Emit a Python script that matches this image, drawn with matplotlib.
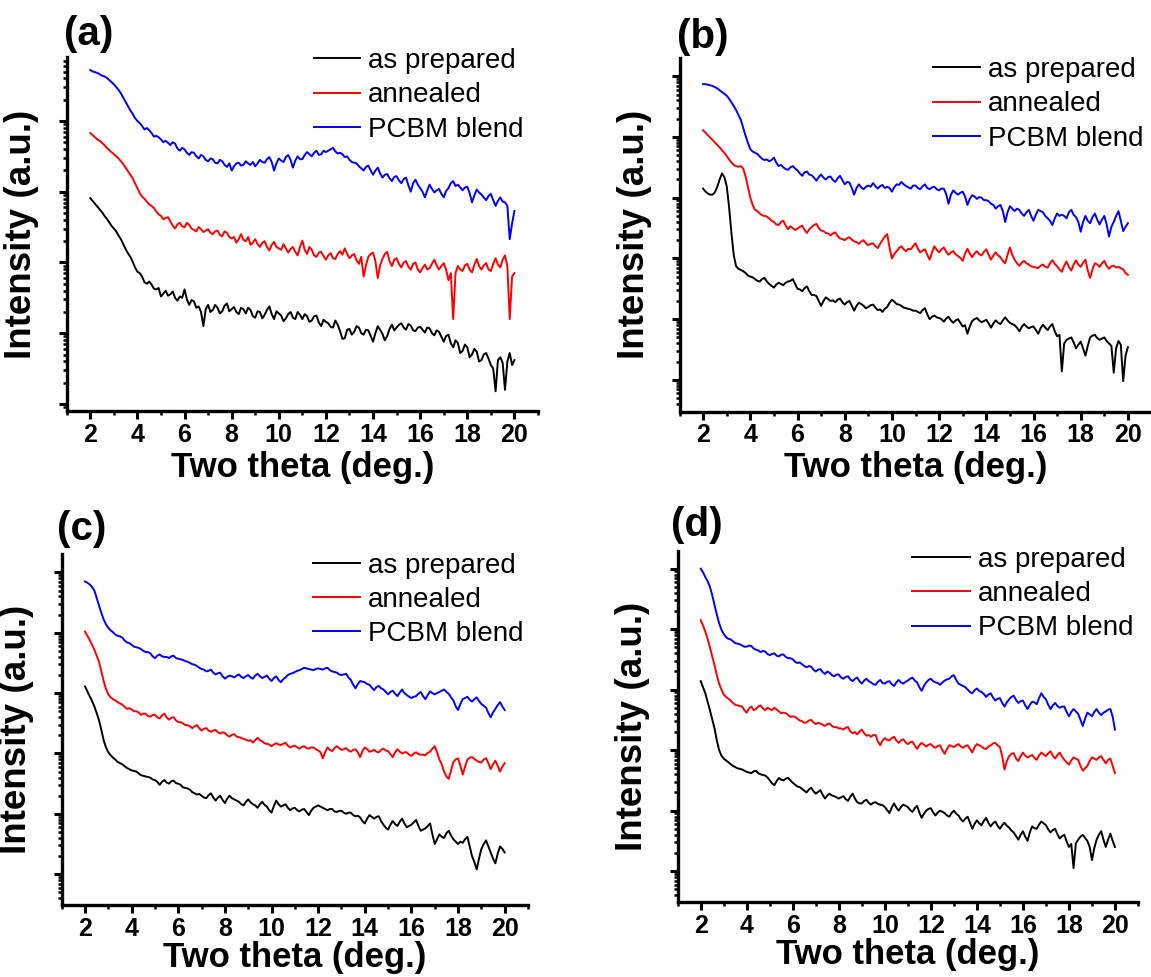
import numpy as np
import matplotlib
matplotlib.use("Agg")
import matplotlib.pyplot as plt
from matplotlib.ticker import LogLocator, NullFormatter, MultipleLocator

plt.rcParams['font.family'] = ['Liberation Sans', 'DejaVu Sans']

# ---------------- data (log10 of intensity, arbitrary units) ----------------
# values read at 2.0, 2.2, ..., 20.0 deg and at the in-between points 2.1, 2.3, ..., 19.9 deg
two_theta_even = np.round(np.arange(2.0, 20.001, 0.2), 1)
two_theta_mid = np.round(np.arange(2.1, 19.95, 0.2), 1)
series_names = ["as prepared", "annealed", "PCBM blend"]
series_colors = ["#000000", "#ff0000", "#0000ff"]
panel_labels = ["(a)", "(b)", "(c)", "(d)"]
xtick_values = [2, 4, 6, 8, 10, 12, 14, 16, 18, 20]

a_as_prepared = [
    3.91, 3.83, 3.75, 3.66, 3.57, 3.48, 3.38, 3.26, 3.13, 3.01,
    2.87, 2.80, 2.70, 2.69, 2.62, 2.52, 2.60, 2.55, 2.50, 2.52,
    2.62, 2.40, 2.45, 2.38, 2.10, 2.40, 2.33, 2.36, 2.31, 2.42,
    2.34, 2.30, 2.36, 2.28, 2.33, 2.22, 2.30, 2.26, 2.38, 2.20,
    2.28, 2.17, 2.27, 2.22, 2.30, 2.20, 2.24, 2.18, 2.25, 2.10,
    2.16, 2.09, 2.18, 2.03, 1.93, 2.06, 2.02, 2.08, 1.98, 2.04,
    1.88, 2.10, 1.99, 1.96, 2.12, 2.08, 2.14, 2.05, 2.11, 2.03,
    2.09, 2.01, 2.07, 1.97, 2.02, 1.88, 1.98, 1.80, 1.86, 1.75,
    1.80, 1.70, 1.74, 1.62, 1.72, 1.55, 1.18, 1.66, 1.20, 1.72,
    1.62]
a_as_prepared_mid = [
    3.87, 3.79, 3.71, 3.62, 3.52, 3.44, 3.33, 3.19, 3.08, 2.93,
    2.85, 2.72, 2.73, 2.63, 2.64, 2.56, 2.53, 2.59, 2.46, 2.50,
    2.48, 2.47, 2.36, 2.30, 2.34, 2.30, 2.40, 2.28, 2.39, 2.31,
    2.37, 2.27, 2.34, 2.36, 2.24, 2.31, 2.21, 2.33, 2.27, 2.31,
    2.25, 2.21, 2.30, 2.20, 2.26, 2.27, 2.16, 2.24, 2.15, 2.19,
    2.14, 2.08, 2.12, 1.92, 2.05, 1.98, 2.10, 2.00, 2.05, 1.96,
    2.00, 2.05, 1.90, 2.06, 2.04, 2.12, 2.08, 2.13, 2.04, 2.08,
    2.05, 2.08, 2.00, 2.04, 1.95, 1.96, 1.86, 1.90, 1.72, 1.84,
    1.66, 1.78, 1.60, 1.70, 1.64, 1.50, 1.62, 1.58, 1.60, 1.55]
a_annealed = [
    4.83, 4.77, 4.72, 4.66, 4.59, 4.53, 4.47, 4.39, 4.29, 4.19,
    4.05, 3.93, 3.86, 3.80, 3.72, 3.66, 3.63, 3.58, 3.48, 3.56,
    3.50, 3.53, 3.46, 3.50, 3.43, 3.47, 3.40, 3.45, 3.37, 3.42,
    3.34, 3.28, 3.40, 3.30, 3.25, 3.33, 3.22, 3.30, 3.17, 3.29,
    3.20, 3.26, 3.14, 3.22, 3.10, 3.31, 3.12, 3.18, 3.08, 3.15,
    3.04, 3.13, 3.05, 3.16, 3.20, 3.06, 3.12, 2.98, 2.80, 3.08,
    3.14, 2.78, 3.05, 3.15, 2.95, 3.06, 2.93, 3.02, 2.90, 3.00,
    2.86, 2.97, 2.92, 3.04, 2.90, 2.99, 2.75, 2.20, 2.95, 2.88,
    2.98, 2.86, 3.05, 2.90, 2.99, 2.88, 3.06, 2.93, 3.10, 2.20,
    2.85]
a_annealed_mid = [
    4.80, 4.74, 4.69, 4.62, 4.56, 4.50, 4.43, 4.34, 4.24, 4.12,
    3.98, 3.90, 3.82, 3.77, 3.68, 3.61, 3.64, 3.52, 3.54, 3.51,
    3.56, 3.48, 3.44, 3.47, 3.45, 3.42, 3.44, 3.39, 3.44, 3.36,
    3.36, 3.33, 3.32, 3.36, 3.28, 3.26, 3.28, 3.22, 3.25, 3.22,
    3.18, 3.20, 3.19, 3.15, 3.22, 3.18, 3.22, 3.10, 3.14, 3.09,
    3.10, 3.06, 3.12, 3.11, 3.12, 3.10, 3.03, 3.08, 2.96, 3.12,
    3.02, 2.96, 3.12, 3.02, 3.04, 2.98, 3.00, 2.94, 2.98, 2.90,
    2.92, 2.90, 2.98, 2.96, 2.95, 2.90, 2.85, 2.85, 2.90, 2.96,
    2.90, 2.97, 2.95, 2.96, 2.90, 2.98, 2.97, 3.04, 2.95, 2.80]
a_pcbm_blend = [
    5.72, 5.69, 5.66, 5.63, 5.58, 5.52, 5.44, 5.33, 5.21, 5.10,
    5.00, 4.93, 4.90, 4.83, 4.79, 4.74, 4.72, 4.66, 4.68, 4.58,
    4.60, 4.52, 4.55, 4.47, 4.50, 4.43, 4.46, 4.40, 4.43, 4.35,
    4.30, 4.40, 4.37, 4.43, 4.38, 4.36, 4.45, 4.41, 4.49, 4.30,
    4.47, 4.42, 4.52, 4.34, 4.50, 4.46, 4.56, 4.50, 4.58, 4.53,
    4.56, 4.60, 4.57, 4.55, 4.49, 4.45, 4.41, 4.36, 4.30, 4.37,
    4.24, 4.34, 4.20, 4.25, 4.15, 4.22, 4.12, 4.20, 4.00, 4.17,
    4.05, 3.92, 4.10, 3.99, 4.04, 3.92, 4.05, 4.15, 4.10, 4.02,
    4.07, 3.85, 4.03, 3.96, 3.88, 3.97, 3.80, 3.92, 3.85, 3.33,
    3.73]
a_pcbm_blend_mid = [
    5.70, 5.68, 5.64, 5.61, 5.55, 5.48, 5.39, 5.27, 5.15, 5.04,
    4.97, 4.88, 4.87, 4.78, 4.77, 4.70, 4.69, 4.70, 4.61, 4.62,
    4.55, 4.56, 4.50, 4.52, 4.45, 4.47, 4.41, 4.45, 4.38, 4.40,
    4.36, 4.41, 4.38, 4.40, 4.42, 4.40, 4.42, 4.46, 4.42, 4.40,
    4.44, 4.49, 4.45, 4.44, 4.46, 4.52, 4.53, 4.55, 4.52, 4.58,
    4.58, 4.62, 4.54, 4.53, 4.50, 4.42, 4.40, 4.33, 4.35, 4.30,
    4.30, 4.26, 4.24, 4.19, 4.21, 4.16, 4.18, 4.09, 4.12, 4.10,
    4.00, 4.02, 4.04, 4.02, 3.97, 4.01, 4.12, 4.08, 4.06, 4.06,
    3.98, 3.95, 3.99, 3.92, 3.94, 3.88, 3.87, 3.86, 3.80, 3.55]

b_as_prepared = [
    3.15, 3.07, 3.05, 3.18, 3.40, 3.19, 2.42, 1.87, 1.81, 1.76,
    1.70, 1.66, 1.62, 1.68, 1.58, 1.52, 1.60, 1.56, 1.62, 1.66,
    1.50, 1.46, 1.54, 1.40, 1.38, 1.22, 1.36, 1.30, 1.28, 1.34,
    1.24, 1.30, 1.14, 1.27, 1.22, 1.20, 1.24, 1.15, 1.12, 1.20,
    1.32, 1.25, 1.22, 1.18, 1.16, 1.14, 1.10, 1.18, 1.00, 1.06,
    1.02, 0.96, 1.04, 0.94, 1.00, 0.88, 0.76, 0.97, 1.02, 0.95,
    0.99, 0.86, 0.98, 0.92, 1.03, 0.94, 0.90, 0.80, 0.92, 0.85,
    0.88, 0.76, 0.91, 0.82, 0.92, 0.72, 0.14, 0.66, 0.70, 0.52,
    0.63, 0.40, 0.70, 0.74, 0.66, 0.70, 0.60, 0.12, 0.64, -0.02,
    0.54]
b_as_prepared_mid = [
    3.10, 3.05, 3.09, 3.30, 3.34, 2.85, 2.05, 1.83, 1.79, 1.72,
    1.69, 1.63, 1.66, 1.62, 1.55, 1.57, 1.58, 1.60, 1.63, 1.58,
    1.49, 1.51, 1.46, 1.40, 1.30, 1.30, 1.33, 1.31, 1.32, 1.28,
    1.28, 1.22, 1.22, 1.25, 1.18, 1.23, 1.19, 1.16, 1.17, 1.27,
    1.29, 1.24, 1.19, 1.17, 1.14, 1.12, 1.15, 1.08, 1.04, 1.03,
    1.00, 1.01, 0.98, 0.98, 0.94, 0.90, 0.88, 1.00, 0.98, 0.97,
    0.93, 0.93, 0.94, 0.98, 0.98, 0.92, 0.86, 0.87, 0.88, 0.87,
    0.82, 0.85, 0.86, 0.88, 0.80, 0.74, 0.60, 0.68, 0.62, 0.58,
    0.52, 0.56, 0.73, 0.69, 0.68, 0.64, 0.56, 0.52, 0.58, 0.40]
b_annealed = [
    4.11, 4.03, 3.95, 3.87, 3.78, 3.69, 3.58, 3.52, 3.52, 3.35,
    3.00, 2.80, 2.74, 2.70, 2.66, 2.60, 2.55, 2.62, 2.48, 2.50,
    2.49, 2.54, 2.42, 2.52, 2.57, 2.46, 2.42, 2.38, 2.43, 2.33,
    2.30, 2.35, 2.28, 2.24, 2.30, 2.22, 2.25, 2.17, 2.30, 2.40,
    2.00, 2.12, 2.20, 2.12, 2.15, 2.25, 2.10, 2.15, 1.98, 2.20,
    2.10, 2.18, 2.06, 2.12, 2.04, 1.96, 2.16, 2.02, 2.12, 2.05,
    2.15, 1.98, 2.10, 2.02, 1.92, 2.18, 1.98, 1.88, 1.96, 1.90,
    1.86, 1.84, 1.90, 1.85, 1.97, 1.87, 1.78, 1.95, 1.80, 1.97,
    1.86, 1.98, 1.68, 1.92, 1.86, 1.96, 1.83, 1.88, 1.86, 1.82,
    1.73]
b_annealed_mid = [
    4.07, 3.99, 3.91, 3.83, 3.74, 3.63, 3.54, 3.51, 3.48, 3.18,
    2.88, 2.78, 2.71, 2.69, 2.62, 2.56, 2.60, 2.54, 2.53, 2.47,
    2.52, 2.47, 2.48, 2.55, 2.50, 2.45, 2.41, 2.41, 2.37, 2.32,
    2.33, 2.31, 2.27, 2.28, 2.25, 2.24, 2.20, 2.24, 2.36, 2.18,
    2.07, 2.17, 2.15, 2.16, 2.20, 2.16, 2.13, 2.06, 2.10, 2.14,
    2.15, 2.11, 2.10, 2.07, 2.01, 2.08, 2.08, 2.08, 2.07, 2.11,
    2.06, 2.05, 2.05, 1.96, 2.06, 2.06, 1.92, 1.93, 1.92, 1.87,
    1.85, 1.88, 1.86, 1.92, 1.91, 1.82, 1.88, 1.86, 1.90, 1.90,
    1.93, 1.80, 1.82, 1.90, 1.92, 1.88, 1.87, 1.85, 1.84, 1.76]
b_pcbm_blend = [
    4.87, 4.86, 4.84, 4.80, 4.74, 4.68, 4.57, 4.44, 4.28, 4.02,
    3.80, 3.74, 3.68, 3.62, 3.60, 3.66, 3.52, 3.50, 3.46, 3.52,
    3.45, 3.36, 3.43, 3.37, 3.28, 3.38, 3.30, 3.35, 3.26, 3.36,
    3.22, 3.25, 3.05, 3.22, 3.14, 3.20, 3.24, 3.15, 3.21, 3.18,
    3.10, 3.22, 3.26, 3.19, 3.15, 3.20, 3.14, 3.22, 3.14, 3.18,
    3.12, 3.15, 2.90, 3.12, 3.05, 3.10, 2.88, 3.04, 2.98, 3.00,
    2.96, 2.90, 2.82, 2.88, 2.60, 2.86, 2.78, 2.80, 2.70, 2.80,
    2.62, 2.80, 2.76, 2.66, 2.55, 2.74, 2.72, 2.66, 2.80, 2.68,
    2.44, 2.70, 2.58, 2.74, 2.56, 2.70, 2.36, 2.60, 2.78, 2.45,
    2.58]
b_pcbm_blend_mid = [
    4.87, 4.85, 4.82, 4.77, 4.71, 4.63, 4.51, 4.36, 4.15, 3.90,
    3.76, 3.72, 3.64, 3.63, 3.62, 3.58, 3.54, 3.47, 3.50, 3.48,
    3.40, 3.42, 3.38, 3.33, 3.34, 3.33, 3.34, 3.29, 3.32, 3.29,
    3.26, 3.16, 3.16, 3.17, 3.18, 3.18, 3.19, 3.19, 3.16, 3.16,
    3.17, 3.21, 3.22, 3.17, 3.20, 3.16, 3.19, 3.16, 3.17, 3.14,
    3.15, 3.06, 3.05, 3.08, 3.08, 3.02, 2.98, 3.02, 3.01, 2.96,
    2.94, 2.88, 2.86, 2.78, 2.76, 2.82, 2.82, 2.74, 2.76, 2.70,
    2.72, 2.78, 2.70, 2.62, 2.66, 2.70, 2.70, 2.76, 2.72, 2.60,
    2.60, 2.62, 2.68, 2.64, 2.64, 2.56, 2.52, 2.70, 2.62, 2.52]

c_as_prepared = [
    3.11, 2.95, 2.78, 2.55, 2.22, 2.02, 1.93, 1.86, 1.82, 1.76,
    1.72, 1.70, 1.64, 1.62, 1.60, 1.56, 1.48, 1.56, 1.50, 1.55,
    1.50, 1.44, 1.42, 1.36, 1.32, 1.30, 1.26, 1.34, 1.22, 1.30,
    1.18, 1.30, 1.24, 1.20, 1.14, 1.24, 1.16, 1.10, 1.20, 1.12,
    1.02, 1.22, 1.12, 1.16, 1.06, 1.10, 1.04, 1.08, 0.98, 1.10,
    1.14, 1.10, 1.06, 1.08, 1.03, 1.05, 1.00, 1.02, 0.96, 0.94,
    0.84, 0.98, 0.92, 0.96, 0.82, 0.74, 0.88, 0.80, 0.92, 0.78,
    0.82, 0.90, 0.72, 0.76, 0.84, 0.50, 0.66, 0.60, 0.72, 0.58,
    0.50, 0.52, 0.62, 0.30, 0.08, 0.42, 0.56, 0.36, 0.18, 0.46,
    0.36]
c_as_prepared_mid = [
    3.03, 2.87, 2.67, 2.39, 2.10, 1.97, 1.90, 1.84, 1.79, 1.74,
    1.71, 1.67, 1.63, 1.61, 1.57, 1.53, 1.53, 1.52, 1.54, 1.51,
    1.48, 1.43, 1.40, 1.34, 1.33, 1.27, 1.31, 1.27, 1.27, 1.23,
    1.25, 1.26, 1.22, 1.16, 1.20, 1.19, 1.14, 1.16, 1.15, 1.06,
    1.13, 1.16, 1.14, 1.10, 1.09, 1.06, 1.07, 1.03, 1.05, 1.12,
    1.12, 1.08, 1.08, 1.04, 1.05, 1.02, 1.02, 0.98, 0.97, 0.88,
    0.92, 0.95, 0.95, 0.88, 0.77, 0.82, 0.83, 0.87, 0.84, 0.80,
    0.86, 0.80, 0.74, 0.80, 0.66, 0.58, 0.62, 0.68, 0.64, 0.54,
    0.54, 0.58, 0.46, 0.20, 0.26, 0.50, 0.46, 0.26, 0.34, 0.42]
c_annealed = [
    4.02, 3.88, 3.72, 3.52, 3.20, 2.98, 2.90, 2.85, 2.81, 2.74,
    2.73, 2.70, 2.64, 2.66, 2.61, 2.64, 2.58, 2.66, 2.56, 2.60,
    2.52, 2.50, 2.47, 2.42, 2.47, 2.38, 2.42, 2.36, 2.39, 2.33,
    2.34, 2.28, 2.32, 2.27, 2.24, 2.21, 2.18, 2.26, 2.20, 2.16,
    2.12, 2.17, 2.14, 2.18, 2.10, 2.13, 2.08, 2.12, 2.08, 2.10,
    2.05, 1.92, 2.10, 2.04, 2.12, 2.06, 2.09, 2.03, 2.07, 1.94,
    2.10, 2.03, 2.06, 2.02, 2.08, 2.04, 1.94, 2.07, 2.00, 2.02,
    1.96, 2.02, 1.98, 1.97, 2.03, 2.12, 1.90, 1.70, 1.58, 1.86,
    1.92, 1.65, 1.90, 1.94, 1.88, 1.85, 1.92, 1.74, 1.88, 1.70,
    1.84]
c_annealed_mid = [
    3.95, 3.80, 3.62, 3.36, 3.07, 2.93, 2.88, 2.83, 2.77, 2.75,
    2.70, 2.68, 2.66, 2.62, 2.64, 2.60, 2.63, 2.60, 2.59, 2.55,
    2.52, 2.47, 2.45, 2.45, 2.42, 2.41, 2.38, 2.38, 2.35, 2.35,
    2.30, 2.31, 2.28, 2.26, 2.23, 2.22, 2.22, 2.22, 2.17, 2.15,
    2.15, 2.15, 2.16, 2.13, 2.12, 2.10, 2.11, 2.09, 2.10, 2.07,
    2.02, 2.02, 2.06, 2.09, 2.09, 2.07, 2.05, 2.06, 2.02, 2.04,
    2.07, 2.04, 2.03, 2.06, 2.05, 1.99, 2.02, 2.03, 2.02, 1.98,
    2.00, 1.99, 1.98, 2.01, 2.08, 2.02, 1.82, 1.62, 1.72, 1.90,
    1.80, 1.78, 1.93, 1.91, 1.86, 1.90, 1.84, 1.82, 1.80, 1.78]
c_pcbm_blend = [
    4.85, 4.80, 4.70, 4.45, 4.22, 4.08, 4.01, 3.95, 3.92, 3.84,
    3.80, 3.76, 3.73, 3.68, 3.66, 3.58, 3.64, 3.60, 3.58, 3.62,
    3.57, 3.55, 3.52, 3.48, 3.45, 3.40, 3.36, 3.39, 3.31, 3.34,
    3.24, 3.29, 3.26, 3.31, 3.25, 3.30, 3.24, 3.32, 3.25, 3.29,
    3.20, 3.28, 3.18, 3.26, 3.32, 3.35, 3.38, 3.42, 3.40, 3.38,
    3.41, 3.39, 3.42, 3.36, 3.34, 3.30, 3.32, 3.22, 3.08, 3.20,
    3.18, 3.14, 3.05, 3.12, 3.06, 2.98, 3.04, 2.95, 3.06, 2.97,
    2.92, 2.95, 3.02, 2.90, 3.03, 2.98, 3.02, 3.06, 2.99, 2.88,
    2.72, 2.90, 2.94, 2.86, 2.93, 2.82, 2.76, 2.60, 2.74, 2.85,
    2.72]
c_pcbm_blend_mid = [
    4.83, 4.76, 4.58, 4.33, 4.14, 4.04, 3.97, 3.94, 3.87, 3.83,
    3.77, 3.75, 3.70, 3.68, 3.61, 3.62, 3.61, 3.60, 3.61, 3.58,
    3.56, 3.53, 3.50, 3.47, 3.42, 3.39, 3.37, 3.34, 3.33, 3.28,
    3.27, 3.28, 3.29, 3.27, 3.28, 3.26, 3.29, 3.28, 3.27, 3.24,
    3.25, 3.22, 3.23, 3.30, 3.33, 3.37, 3.40, 3.41, 3.39, 3.40,
    3.40, 3.41, 3.38, 3.35, 3.31, 3.31, 3.26, 3.14, 3.15, 3.19,
    3.15, 3.09, 3.10, 3.08, 3.02, 3.02, 2.99, 3.01, 3.00, 2.94,
    2.94, 2.99, 2.95, 2.97, 3.00, 3.00, 3.04, 3.02, 2.93, 2.78,
    2.82, 2.92, 2.89, 2.90, 2.87, 2.79, 2.67, 2.68, 2.80, 2.78]

d_as_prepared = [
    3.14, 2.94, 2.66, 2.36, 2.00, 1.86, 1.80, 1.74, 1.70, 1.68,
    1.64, 1.62, 1.66, 1.60, 1.58, 1.50, 1.42, 1.54, 1.50, 1.54,
    1.46, 1.40, 1.36, 1.30, 1.38, 1.28, 1.34, 1.20, 1.28, 1.24,
    1.20, 1.24, 1.16, 1.28, 1.14, 1.12, 1.18, 1.10, 1.14, 1.10,
    1.06, 0.96, 1.12, 1.00, 1.10, 1.06, 0.98, 1.08, 0.88, 1.00,
    1.04, 0.92, 1.00, 0.96, 0.90, 1.00, 0.92, 0.82, 0.90, 0.70,
    0.84, 0.76, 0.88, 0.74, 0.82, 0.70, 0.80, 0.72, 0.64, 0.52,
    0.66, 0.50, 0.74, 0.70, 0.82, 0.76, 0.64, 0.70, 0.54, 0.60,
    0.40, 0.05, 0.52, 0.60, 0.50, 0.18, 0.52, 0.66, 0.40, 0.62,
    0.40]
d_as_prepared_mid = [
    3.04, 2.80, 2.51, 2.16, 1.91, 1.83, 1.77, 1.72, 1.69, 1.66,
    1.63, 1.65, 1.62, 1.59, 1.55, 1.45, 1.49, 1.51, 1.53, 1.50,
    1.43, 1.39, 1.33, 1.35, 1.32, 1.31, 1.26, 1.25, 1.25, 1.22,
    1.22, 1.19, 1.23, 1.20, 1.12, 1.16, 1.13, 1.13, 1.11, 1.09,
    1.01, 1.05, 1.05, 1.06, 1.08, 1.01, 1.04, 0.97, 0.95, 1.03,
    0.97, 0.97, 0.98, 0.92, 0.96, 0.95, 0.86, 0.87, 0.80, 0.78,
    0.79, 0.83, 0.80, 0.79, 0.75, 0.76, 0.75, 0.67, 0.58, 0.60,
    0.57, 0.64, 0.71, 0.77, 0.79, 0.69, 0.68, 0.61, 0.58, 0.49,
    0.45, 0.46, 0.57, 0.55, 0.40, 0.38, 0.60, 0.52, 0.52, 0.50]
d_annealed = [
    4.15, 3.96, 3.70, 3.40, 3.10, 2.92, 2.85, 2.78, 2.74, 2.72,
    2.62, 2.72, 2.68, 2.74, 2.66, 2.68, 2.70, 2.64, 2.62, 2.58,
    2.56, 2.52, 2.48, 2.46, 2.50, 2.43, 2.44, 2.40, 2.44, 2.38,
    2.36, 2.34, 2.38, 2.28, 2.26, 2.34, 2.24, 2.22, 2.25, 2.08,
    2.20, 2.16, 2.22, 2.12, 2.18, 2.10, 2.14, 2.02, 2.12, 2.06,
    2.10, 2.04, 2.08, 1.94, 2.08, 2.05, 2.10, 2.04, 2.08, 1.96,
    2.10, 2.06, 2.02, 2.08, 2.12, 2.05, 1.68, 1.90, 1.95, 1.82,
    1.96, 1.88, 1.92, 1.84, 1.96, 1.90, 1.98, 1.86, 1.96, 1.84,
    1.76, 1.88, 1.84, 1.66, 1.74, 1.88, 1.84, 1.90, 1.78, 1.86,
    1.62]
d_annealed_mid = [
    4.06, 3.84, 3.55, 3.24, 3.00, 2.88, 2.82, 2.75, 2.73, 2.66,
    2.69, 2.66, 2.72, 2.69, 2.70, 2.66, 2.67, 2.61, 2.61, 2.55,
    2.55, 2.49, 2.45, 2.49, 2.46, 2.45, 2.42, 2.43, 2.40, 2.38,
    2.36, 2.37, 2.31, 2.30, 2.31, 2.28, 2.25, 2.25, 2.14, 2.16,
    2.17, 2.20, 2.16, 2.16, 2.13, 2.13, 2.08, 2.08, 2.09, 2.09,
    2.06, 2.07, 2.00, 2.02, 2.07, 2.08, 2.06, 2.07, 2.02, 2.05,
    2.08, 2.03, 2.06, 2.11, 2.08, 1.90, 1.82, 1.94, 1.86, 1.90,
    1.91, 1.90, 1.87, 1.91, 1.93, 1.95, 1.91, 1.92, 1.89, 1.80,
    1.83, 1.86, 1.74, 1.70, 1.82, 1.86, 1.88, 1.84, 1.84, 1.74]
d_pcbm_blend = [
    5.00, 4.86, 4.70, 4.40, 4.10, 3.92, 3.84, 3.80, 3.76, 3.73,
    3.71, 3.72, 3.66, 3.62, 3.63, 3.57, 3.60, 3.55, 3.58, 3.52,
    3.50, 3.44, 3.42, 3.37, 3.38, 3.30, 3.34, 3.26, 3.28, 3.22,
    3.25, 3.18, 3.22, 3.14, 3.20, 3.10, 3.18, 3.12, 3.08, 3.16,
    3.10, 3.14, 3.06, 3.16, 3.10, 3.15, 3.20, 3.12, 2.98, 3.12,
    3.18, 3.12, 3.08, 3.15, 3.18, 3.24, 3.10, 3.06, 3.00, 2.94,
    3.02, 2.96, 2.88, 2.94, 2.82, 2.86, 2.72, 2.84, 2.90, 2.78,
    2.82, 2.68, 2.80, 2.76, 2.94, 2.84, 2.68, 2.78, 2.70, 2.72,
    2.56, 2.68, 2.60, 2.40, 2.62, 2.56, 2.68, 2.58, 2.64, 2.68,
    2.34]
d_pcbm_blend_mid = [
    4.94, 4.79, 4.56, 4.24, 3.99, 3.87, 3.83, 3.77, 3.75, 3.71,
    3.73, 3.68, 3.65, 3.64, 3.59, 3.59, 3.56, 3.58, 3.54, 3.52,
    3.46, 3.45, 3.39, 3.39, 3.33, 3.33, 3.29, 3.30, 3.24, 3.25,
    3.20, 3.21, 3.17, 3.18, 3.14, 3.15, 3.14, 3.09, 3.13, 3.11,
    3.13, 3.09, 3.12, 3.12, 3.13, 3.18, 3.15, 3.04, 3.06, 3.16,
    3.14, 3.11, 3.12, 3.17, 3.22, 3.16, 3.08, 3.04, 2.96, 2.99,
    2.98, 2.93, 2.92, 2.87, 2.85, 2.78, 2.79, 2.88, 2.83, 2.81,
    2.74, 2.75, 2.79, 2.86, 2.88, 2.75, 2.74, 2.73, 2.72, 2.63,
    2.63, 2.64, 2.50, 2.52, 2.59, 2.63, 2.62, 2.62, 2.67, 2.55]

panel_series = [
    [(a_as_prepared, a_as_prepared_mid), (a_annealed, a_annealed_mid), (a_pcbm_blend, a_pcbm_blend_mid)],
    [(b_as_prepared, b_as_prepared_mid), (b_annealed, b_annealed_mid), (b_pcbm_blend, b_pcbm_blend_mid)],
    [(c_as_prepared, c_as_prepared_mid), (c_annealed, c_annealed_mid), (c_pcbm_blend, c_pcbm_blend_mid)],
    [(d_as_prepared, d_as_prepared_mid), (d_annealed, d_annealed_mid), (d_pcbm_blend, d_pcbm_blend_mid)],
]
# y-range of each panel, in decades (log10)
panel_ylog = [(0.905, 5.90), (-0.52, 5.30), (-0.51, 5.30), (-0.51, 5.30)]


def merged(even_vals, mid_vals):
    x = np.empty(len(two_theta_even) + len(two_theta_mid))
    y = np.empty_like(x)
    x[0::2], x[1::2] = two_theta_even, two_theta_mid
    y[0::2], y[1::2] = even_vals, mid_vals
    return x, y


# ---------------- layout (pixels of a 1151 x 977 canvas) ----------------
W, H = 1151, 977
# left, right, top, bottom of each axes
axes_px = [(66.7, 538.0, 57.3, 410.7),
           (679.5, 1151.5, 58.0, 411.5),
           (61.7, 528.0, 554.3, 905.0),
           (677.7, 1138.0, 550.5, 902.0)]
label_px = [(88.5, 34), (703, 37), (81.5, 529), (697, 525)]
legend_anchor = [(0.5247, 1.026), (0.5365, 1.003), (0.538, 1.005), (0.508, 1.011)]
legend_handle_len = [1.65, 1.7, 1.7, 2.1]
xlabel_pad = [3, 3, 0, 0]

fig = plt.figure(figsize=(W / 100, H / 100), dpi=100)

for k in range(4):
    l, r, t, b = axes_px[k]
    ax = fig.add_axes([l / W, 1 - b / H, (r - l) / W, (b - t) / H])
    for (ev, md), name, col in zip(panel_series[k], series_names, series_colors):
        x, y = merged(ev, md)
        ax.plot(x, 10 ** y, color=col, lw=1.4, label=name)
    ax.set_yscale('log')
    lo, hi = panel_ylog[k]
    ax.set_ylim(10 ** lo, 10 ** hi)
    ax.set_xlim(1, 21)
    ax.set_xticks(xtick_values)
    ax.xaxis.set_minor_locator(MultipleLocator(1))
    ax.yaxis.set_major_locator(LogLocator(base=10, numticks=20))
    ax.yaxis.set_minor_locator(LogLocator(base=10, subs=np.arange(2, 10), numticks=50))
    ax.yaxis.set_major_formatter(NullFormatter())
    ax.yaxis.set_minor_formatter(NullFormatter())
    for side in ('top', 'right'):
        ax.spines[side].set_visible(False)
    for side in ('left', 'bottom'):
        ax.spines[side].set_linewidth(2.4)
    ax.tick_params(which='major', direction='out', length=5.5, width=2.2)
    ax.tick_params(which='minor', direction='out', length=3.2, width=1.8)
    ax.tick_params(axis='x', which='major', labelsize=18, pad=3)
    for lab in ax.get_xticklabels():
        lab.set_fontweight('bold')
    ax.set_xlabel('Two theta (deg.)', fontsize=25, fontweight='bold',
                  labelpad=xlabel_pad[k])
    ax.set_ylabel('Intensity (a.u.)', fontsize=26.5, fontweight='bold', labelpad=11)
    ax.legend(loc='upper left', bbox_to_anchor=legend_anchor[k], frameon=False,
              fontsize=20, handlelength=legend_handle_len[k], handletextpad=0.3,
              labelspacing=0.3, borderpad=0, borderaxespad=0)
    fig.text(label_px[k][0] / W, 1 - label_px[k][1] / H, panel_labels[k],
             ha='center', va='center', fontsize=29, fontweight='bold')

fig.savefig('out.png', dpi=100)
